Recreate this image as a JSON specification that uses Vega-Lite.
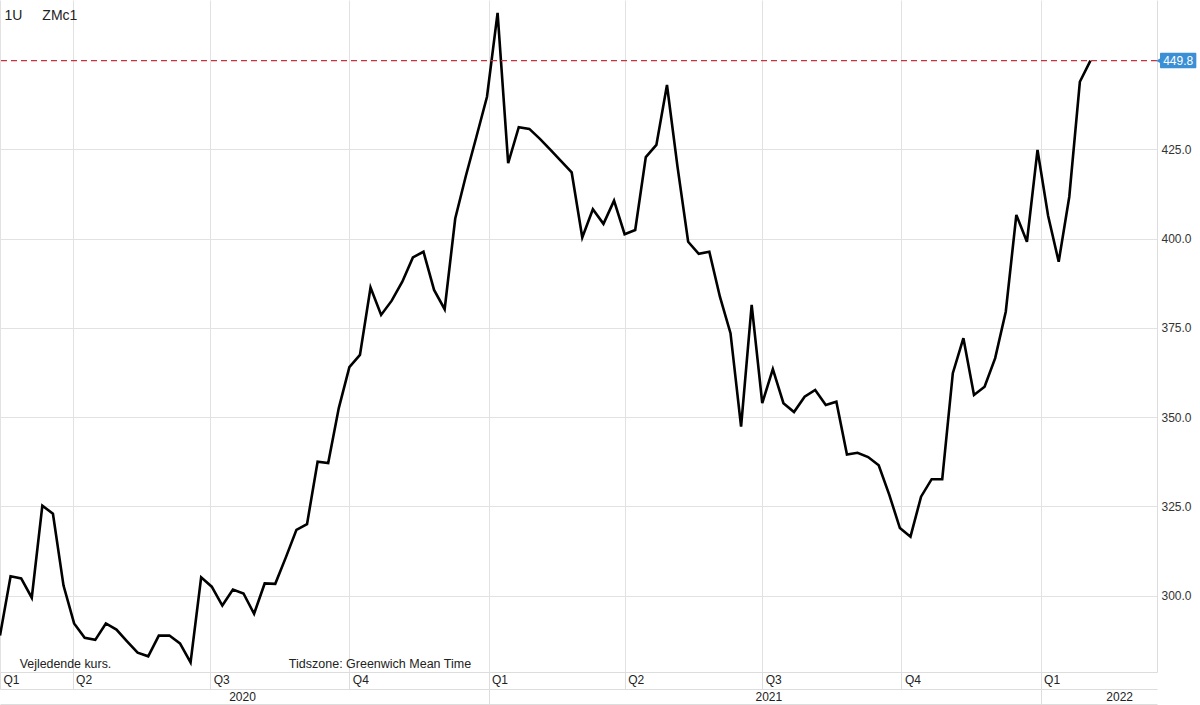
{
  "$schema": "https://vega.github.io/schema/vega-lite/v6.json",
  "width": 1157,
  "height": 672,
  "autosize": {"type": "none"},
  "padding": {"left": 0, "top": 0, "right": 43, "bottom": 33},
  "background": "white",
  "config": {
    "view": {"stroke": null},
    "axis": {"labelFont": "Liberation Sans", "labelFontSize": 12, "labelColor": "#333333"},
    "text": {"font": "Liberation Sans"}
  },
  "layer": [
    {
      "data": {"values": [
        {"date": "2020-02-13", "close": 288.8}, {"date": "2020-02-20", "close": 305.4}, {"date": "2020-02-27", "close": 304.8},
        {"date": "2020-03-05", "close": 299.4}, {"date": "2020-03-12", "close": 325.2}, {"date": "2020-03-19", "close": 322.9},
        {"date": "2020-03-26", "close": 302.8}, {"date": "2020-04-02", "close": 292.2}, {"date": "2020-04-09", "close": 288.2},
        {"date": "2020-04-16", "close": 287.6}, {"date": "2020-04-23", "close": 292.2}, {"date": "2020-04-30", "close": 290.5},
        {"date": "2020-05-07", "close": 287.2}, {"date": "2020-05-14", "close": 284.0}, {"date": "2020-05-21", "close": 283.0},
        {"date": "2020-05-28", "close": 288.8}, {"date": "2020-06-04", "close": 288.8}, {"date": "2020-06-11", "close": 286.6},
        {"date": "2020-06-18", "close": 281.3}, {"date": "2020-06-25", "close": 305.1}, {"date": "2020-07-02", "close": 302.5},
        {"date": "2020-07-09", "close": 297.2}, {"date": "2020-07-16", "close": 301.7}, {"date": "2020-07-23", "close": 300.6},
        {"date": "2020-07-30", "close": 294.9}, {"date": "2020-08-06", "close": 303.4}, {"date": "2020-08-13", "close": 303.3},
        {"date": "2020-08-20", "close": 310.7}, {"date": "2020-08-27", "close": 318.4}, {"date": "2020-09-03", "close": 320.0},
        {"date": "2020-09-10", "close": 337.5}, {"date": "2020-09-17", "close": 337.1}, {"date": "2020-09-24", "close": 352.5},
        {"date": "2020-10-01", "close": 364.0}, {"date": "2020-10-08", "close": 367.4}, {"date": "2020-10-15", "close": 386.3},
        {"date": "2020-10-22", "close": 378.6}, {"date": "2020-10-29", "close": 382.6}, {"date": "2020-11-05", "close": 387.9},
        {"date": "2020-11-12", "close": 394.7}, {"date": "2020-11-19", "close": 396.3}, {"date": "2020-11-26", "close": 385.6},
        {"date": "2020-12-03", "close": 380.2}, {"date": "2020-12-10", "close": 405.6}, {"date": "2020-12-17", "close": 417.5},
        {"date": "2020-12-24", "close": 428.5}, {"date": "2020-12-31", "close": 439.7}, {"date": "2021-01-07", "close": 463.2},
        {"date": "2021-01-14", "close": 421.1}, {"date": "2021-01-21", "close": 431.2}, {"date": "2021-01-28", "close": 430.7},
        {"date": "2021-02-04", "close": 427.9}, {"date": "2021-02-11", "close": 424.8}, {"date": "2021-02-18", "close": 421.7},
        {"date": "2021-02-25", "close": 418.5}, {"date": "2021-03-04", "close": 400.3}, {"date": "2021-03-11", "close": 408.2},
        {"date": "2021-03-18", "close": 404.1}, {"date": "2021-03-25", "close": 410.6}, {"date": "2021-04-01", "close": 401.2},
        {"date": "2021-04-08", "close": 402.4}, {"date": "2021-04-15", "close": 422.8}, {"date": "2021-04-22", "close": 426.2},
        {"date": "2021-04-29", "close": 443.0}, {"date": "2021-05-06", "close": 420.0}, {"date": "2021-05-13", "close": 399.1},
        {"date": "2021-05-20", "close": 395.7}, {"date": "2021-05-27", "close": 396.3}, {"date": "2021-06-03", "close": 383.7},
        {"date": "2021-06-10", "close": 373.5}, {"date": "2021-06-17", "close": 347.3}, {"date": "2021-06-24", "close": 381.4},
        {"date": "2021-07-01", "close": 353.9}, {"date": "2021-07-08", "close": 363.4}, {"date": "2021-07-15", "close": 353.9},
        {"date": "2021-07-22", "close": 351.4}, {"date": "2021-07-29", "close": 355.7}, {"date": "2021-08-05", "close": 357.6},
        {"date": "2021-08-12", "close": 353.4}, {"date": "2021-08-19", "close": 354.3}, {"date": "2021-08-26", "close": 339.5},
        {"date": "2021-09-02", "close": 340.0}, {"date": "2021-09-09", "close": 338.8}, {"date": "2021-09-16", "close": 336.5},
        {"date": "2021-09-23", "close": 328.2}, {"date": "2021-09-30", "close": 318.9}, {"date": "2021-10-07", "close": 316.5},
        {"date": "2021-10-14", "close": 327.7}, {"date": "2021-10-21", "close": 332.6}, {"date": "2021-10-28", "close": 332.6},
        {"date": "2021-11-04", "close": 362.3}, {"date": "2021-11-11", "close": 372.1}, {"date": "2021-11-18", "close": 356.2},
        {"date": "2021-11-25", "close": 358.5}, {"date": "2021-12-02", "close": 366.5}, {"date": "2021-12-09", "close": 379.5},
        {"date": "2021-12-16", "close": 406.6}, {"date": "2021-12-23", "close": 399.1}, {"date": "2021-12-30", "close": 424.8},
        {"date": "2022-01-06", "close": 406.4}, {"date": "2022-01-13", "close": 393.5}, {"date": "2022-01-20", "close": 411.7},
        {"date": "2022-01-27", "close": 443.9}, {"date": "2022-02-03", "close": 449.8}
      ]},
      "mark": {"type": "line", "color": "#000000", "strokeWidth": 2.6},
      "encoding": {
        "x": {
          "field": "date", "type": "temporal",
          "scale": {"type": "utc", "domain": [{"year": 2020, "month": 2, "date": 13, "utc": true}, {"year": 2022, "month": 3, "date": 19, "utc": true}]},
          "axis": {
            "orient": "bottom", "title": null,
            "values": [
              {"year": 2020, "month": 2, "date": 13, "utc": true},
              {"year": 2020, "month": 4, "date": 1, "utc": true},
              {"year": 2020, "month": 7, "date": 1, "utc": true},
              {"year": 2020, "month": 10, "date": 1, "utc": true},
              {"year": 2021, "month": 1, "date": 1, "utc": true},
              {"year": 2021, "month": 4, "date": 1, "utc": true},
              {"year": 2021, "month": 7, "date": 1, "utc": true},
              {"year": 2021, "month": 10, "date": 1, "utc": true},
              {"year": 2022, "month": 1, "date": 1, "utc": true}
            ],
            "labelExpr": "'Q' + utcFormat(datum.value, '%q')",
            "grid": true, "gridColor": "#e2e2e2", "gridWidth": 1,
            "domain": true, "domainColor": "#dddddd",
            "ticks": true, "tickColor": "#dddddd", "tickSize": 17,
            "labelAlign": "left", "labelBaseline": "top", "labelPadding": -15, "labelOffset": 3,
            "labelFlush": false, "labelOverlap": false, "labelBound": false, "labelColor": "#222222"
          }
        },
        "y": {
          "field": "close", "type": "quantitative",
          "scale": {"domain": [278.6, 466.8], "zero": false, "nice": false},
          "axis": {
            "orient": "right", "title": null,
            "values": [300, 325, 350, 375, 400, 425], "format": ".1f",
            "grid": true, "gridColor": "#e2e2e2",
            "domain": true, "domainColor": "#dddddd",
            "ticks": false, "labelPadding": 4, "labelBaseline": "middle"
          }
        }
      }
    },
    {
      "data": {"values": [{}]},
      "mark": {"type": "rule", "color": "#c8323c", "strokeDash": [6, 4], "strokeWidth": 1.2},
      "encoding": {"y": {"datum": 449.8, "type": "quantitative"}}
    },
    {
      "data": {"values": [{}]},
      "mark": {"type": "rect", "color": "#3b8fd4", "cornerRadius": 1},
      "encoding": {
        "x": {
          "datum": {"year": 2022, "month": 3, "date": 21, "utc": true}, "type": "temporal",
          "scale": {"type": "utc", "domain": [{"year": 2020, "month": 2, "date": 13, "utc": true}, {"year": 2022, "month": 3, "date": 19, "utc": true}]},
          "axis": {
            "orient": "bottom", "title": null, "offset": 17,
            "values": [{"year": 2021, "month": 1, "date": 1, "utc": true}, {"year": 2022, "month": 1, "date": 1, "utc": true}],
            "labels": false, "grid": false,
            "domain": true, "domainColor": "#dddddd",
            "ticks": true, "tickSize": 15, "tickColor": "#dddddd"
          }
        },
        "x2": {"datum": {"year": 2022, "month": 4, "date": 14, "utc": true}},
        "y": {"datum": 452.0, "type": "quantitative"},
        "y2": {"datum": 447.7}
      }
    },
    {
      "data": {"values": [{}]},
      "mark": {"type": "point", "shape": "triangle-left", "filled": true, "color": "#3b8fd4", "size": 30, "opacity": 1},
      "encoding": {
        "x": {"datum": {"year": 2022, "month": 3, "date": 20, "utc": true}, "type": "temporal", "axis": null},
        "y": {"datum": 449.8, "type": "quantitative"}
      }
    },
    {
      "data": {"values": [{}]},
      "mark": {"type": "text", "text": "449.8", "color": "white", "fontSize": 12, "fontWeight": 500, "align": "center", "baseline": "middle", "font": "Liberation Sans"},
      "encoding": {
        "x": {
          "datum": {"year": 2022, "month": 4, "date": 2, "utc": true}, "type": "temporal",
          "scale": {"type": "utc", "domain": [{"year": 2020, "month": 2, "date": 13, "utc": true}, {"year": 2022, "month": 3, "date": 19, "utc": true}]},
          "axis": {
            "orient": "bottom", "title": null, "offset": 32,
            "values": [
              {"year": 2020, "month": 7, "date": 22, "utc": true},
              {"year": 2021, "month": 7, "date": 5, "utc": true},
              {"year": 2022, "month": 2, "date": 22, "utc": true}
            ],
            "labelExpr": "utcFormat(datum.value, '%Y')",
            "grid": false, "ticks": false,
            "domain": true, "domainColor": "#dddddd",
            "labelAlign": "center", "labelBaseline": "top", "labelPadding": -13,
            "labelFlush": false, "labelOverlap": false, "labelBound": false, "labelColor": "#222222"
          }
        },
        "y": {"datum": 449.8, "type": "quantitative"}
      }
    },
    {
      "data": {"values": [{}]},
      "mark": {"type": "text", "text": "1U", "color": "#222222", "fontSize": 14, "align": "left", "baseline": "alphabetic"},
      "encoding": {
        "x": {"datum": {"year": 2020, "month": 2, "date": 16, "utc": true}, "type": "temporal", "axis": null},
        "y": {"datum": 461.2, "type": "quantitative"}
      }
    },
    {
      "data": {"values": [{}]},
      "mark": {"type": "text", "text": "ZMc1", "color": "#222222", "fontSize": 14, "align": "left", "baseline": "alphabetic"},
      "encoding": {
        "x": {"datum": {"year": 2020, "month": 3, "date": 12, "utc": true}, "type": "temporal", "axis": null},
        "y": {"datum": 461.2, "type": "quantitative"}
      }
    },
    {
      "data": {"values": [{}]},
      "mark": {"type": "text", "text": "Vejledende kurs.", "color": "#222222", "fontSize": 12.4, "align": "left", "baseline": "alphabetic"},
      "encoding": {
        "x": {"datum": {"year": 2020, "month": 2, "date": 26, "utc": true}, "type": "temporal", "axis": null},
        "y": {"datum": 279.8, "type": "quantitative"}
      }
    },
    {
      "data": {"values": [{}]},
      "mark": {"type": "text", "text": "Tidszone: Greenwich Mean Time", "color": "#222222", "fontSize": 12.5, "align": "left", "baseline": "alphabetic"},
      "encoding": {
        "x": {"datum": {"year": 2020, "month": 8, "date": 22, "utc": true}, "type": "temporal", "axis": null},
        "y": {"datum": 279.8, "type": "quantitative"}
      }
    }
  ],
  "resolve": {"axis": {"x": "independent", "y": "shared"}}
}
